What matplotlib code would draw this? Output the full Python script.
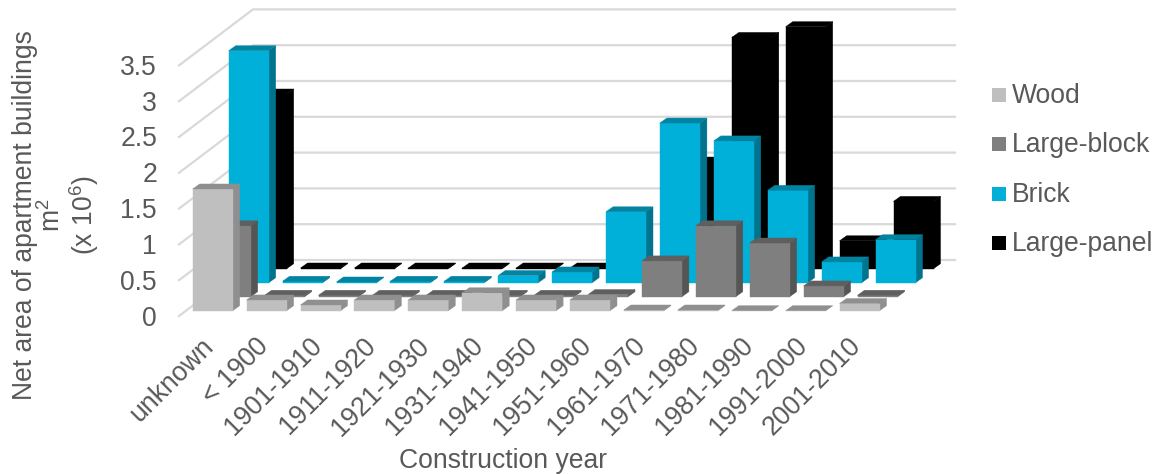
import matplotlib
matplotlib.use('Agg')
import matplotlib.pyplot as plt
from matplotlib.patches import Polygon, Rectangle

plt.rcParams['font.family'] = ['Liberation Sans', 'DejaVu Sans']
plt.rcParams['mathtext.default'] = 'regular'

# Data (x 10^6 m2)
categories = ['unknown', '< 1900', '1901-1910', '1911-1920', '1921-1930', '1931-1940', '1941-1950',
              '1951-1960', '1961-1970', '1971-1980', '1981-1990', '1991-2000', '2001-2010']
wood = [1.70, 0.15, 0.08, 0.15, 0.15, 0.25, 0.15, 0.15, 0.01, 0.01, 0.0, 0.0, 0.10]
large_block = [0.99, 0.02, 0.02, 0.02, 0.02, 0.02, 0.02, 0.03, 0.50, 0.99, 0.75, 0.15, 0.02]
brick = [3.24, 0.02, 0.01, 0.02, 0.02, 0.10, 0.15, 0.99, 2.23, 1.98, 1.29, 0.29, 0.60]
large_panel = [2.44, 0.01, 0.01, 0.01, 0.01, 0.01, 0.01, 0.02, 1.49, 3.23, 3.38, 0.39, 0.94]
y_ticks = [0, 0.5, 1, 1.5, 2, 2.5, 3, 3.5]
y_labels = ['0', '0.5', '1', '1.5', '2', '2.5', '3', '3.5']

series_names = ['Wood', 'Large-block', 'Brick', 'Large-panel']
series_values = [wood, large_block, brick, large_panel]
front_colors = ['#bfbfbf', '#7f7f7f', '#00b0d8', '#000000']
top_colors = ['#8f8f8f', '#5f5f5f', '#0084a2', '#000000']
side_colors = ['#8f8f8f', '#555555', '#00748f', '#000000']

text_color = '#595959'
grid_color = '#d9d9d9'

# Oblique projection of the 3D chart, in pixels
X0 = 192.7       # left edge of first front bar
Y0 = 310.7       # base of front row
CAT_STEP = 53.9
ROW_DX = 18.0
ROW_DY = -14.0
BAR_W = 40.0
DEPTH_DX = 7.0
DEPTH_DY = -5.0
UNIT = 71.6      # pixels per 1 value unit
FONT = 19.1


def draw_bar(ax, i, row, value):
    # front lower left corner of the bar
    x = X0 + i * CAT_STEP + row * ROW_DX
    base = Y0 + row * ROW_DY
    top = base - value * UNIT
    front = [(x, base), (x + BAR_W, base), (x + BAR_W, top), (x, top)]
    side = [(x + BAR_W, base), (x + BAR_W + DEPTH_DX, base + DEPTH_DY),
            (x + BAR_W + DEPTH_DX, top + DEPTH_DY), (x + BAR_W, top)]
    roof = [(x, top), (x + BAR_W, top), (x + BAR_W + DEPTH_DX, top + DEPTH_DY), (x + DEPTH_DX, top + DEPTH_DY)]
    ax.add_patch(Polygon(side, fc=side_colors[row], ec=side_colors[row], lw=0.3, zorder=3))
    ax.add_patch(Polygon(front, fc=front_colors[row], ec=front_colors[row], lw=0.3, zorder=3))
    ax.add_patch(Polygon(roof, fc=top_colors[row], ec=top_colors[row], lw=0.3, zorder=3))


fig = plt.figure(figsize=(11.57, 4.74), dpi=100)
ax = fig.add_axes([0, 0, 1, 1])
ax.set_xlim(0, 1157)
ax.set_ylim(474, 0)
ax.axis('off')

# Walls: gridlines on back wall and on left wall
for t, lab in zip(y_ticks, y_labels):
    y_back = 260 - t * UNIT
    ax.plot([179, 253, 955], [y_back + 56, y_back, y_back], color=grid_color, lw=1.6, solid_joinstyle='miter', zorder=1)
    ax.text(157, y_back + 55.5, lab, ha='right', va='center_baseline', fontsize=FONT, color=text_color)

# Back row first, so the front rows cover it
for row in [3, 2, 1, 0]:
    for i in range(len(categories)):
        draw_bar(ax, i, row, series_values[row][i])

# Category labels
for i, c in enumerate(categories):
    ax.text(201 + i * CAT_STEP, 333, c, rotation=45, rotation_mode='anchor', ha='right', va='top',
            fontsize=FONT, color=text_color)

ax.text(503, 461, 'Construction year', ha='center', va='center', fontsize=FONT, color=text_color)

# Axis title, three lines
ax.text(25, 215, 'Net area of apartment buildings', rotation=90, ha='center', va='center', fontsize=FONT, color=text_color)
ax.text(52, 215, 'm$^2$', rotation=90, ha='center', va='center', fontsize=FONT, color=text_color)
ax.text(84, 215, '(x 10$^6$)', rotation=90, ha='center', va='center', fontsize=FONT, color=text_color)

# Legend
legend_y = [96, 145, 195, 244]
for name, col, y in zip(series_names, front_colors, legend_y):
    ax.add_patch(Rectangle((992, y - 8), 14, 14, fc=col, ec='none'))
    ax.text(1012, y, name, ha='left', va='center', fontsize=FONT, color=text_color)

fig.savefig('out.png', dpi=100)
